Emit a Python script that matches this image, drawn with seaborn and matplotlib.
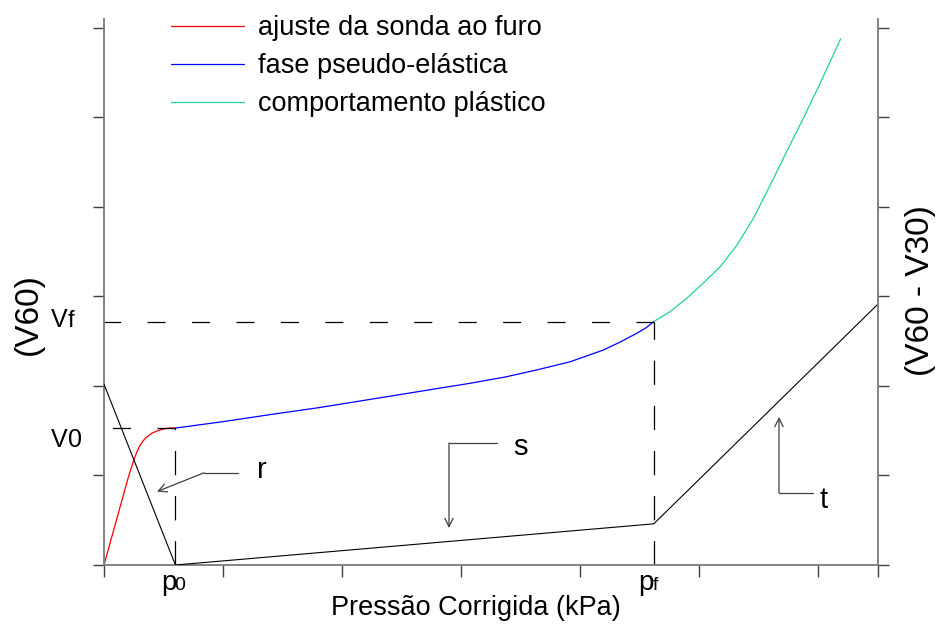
import matplotlib
matplotlib.use("Agg")
import matplotlib.pyplot as plt
import seaborn as sns

# Pressuremeter curve: corrected pressure (kPa) vs. volume V60, creep V60 - V30
p0 = 60.0
pf = 462.0
V0 = 1.53
Vf = 2.72

# "ajuste da sonda ao furo" (probe seating)
p_ajuste = [0, 10, 20, 25, 27.5, 30, 32.5, 35, 40, 45, 50, 55, 60]
v_ajuste = [0.0, 0.48, 0.96, 1.17, 1.26, 1.33, 1.38, 1.42, 1.47, 1.50, 1.52, 1.53, 1.53]

# "fase pseudo-elástica"
p_elastica = [60, 99.2, 139.5, 181.5, 223.5, 265.5, 307.6, 337.0, 363.9, 391.6,
              419.3, 433.6, 447.9, 455.5, 462]
v_elastica = [1.53, 1.60, 1.68, 1.76, 1.85, 1.94, 2.03, 2.10, 2.18, 2.27,
              2.40, 2.49, 2.59, 2.65, 2.72]

# "comportamento plástico"
p_plastico = [462, 475.6, 489.7, 503.6, 517.6, 531.7, 545.6, 559.7, 573.7, 587.6,
              601.7, 619.1]
v_plastico = [2.72, 2.83, 2.98, 3.15, 3.33, 3.57, 3.87, 4.24, 4.62, 4.99,
              5.38, 5.88]

# creep curve (V60 - V30)
p_fluencia = [0, 60, 462, 650]
v_fluencia = [2.02, 0.0, 0.46, 2.91]

legend_labels = ["ajuste da sonda ao furo", "fase pseudo-elástica", "comportamento plástico"]
colors = ["#ff0000", "#0000ff", "#1fd2a2"]

sns.set_theme(style="white")
plt.rcParams["font.family"] = ["Liberation Sans", "DejaVu Sans"]
plt.rcParams["lines.scale_dashes"] = False
plt.rcParams["text.color"] = "black"
plt.rcParams["axes.labelcolor"] = "black"

fig = plt.figure(figsize=(9.42, 6.3), dpi=100)
ax = fig.add_axes([104 / 942, 65 / 630, 774 / 942, 546 / 630])
ax2 = ax.twinx()

XMAX, YMAX = 650.4, 6.1
for a in (ax, ax2):
    a.set_xlim(0, XMAX)
    a.set_ylim(0, YMAX)
    a.set_yticks(range(0, 7))
    a.set_yticklabels([])
    a.set_ylabel("")
    for s in a.spines.values():
        s.set_visible(False)
    a.tick_params(axis="y", length=8, width=1, color="#404040", direction="out")
ax.set_xticks([0, 100, 200, 300, 400, 500, 600, XMAX])
ax.set_xticklabels([])
ax.tick_params(axis="x", length=8.5, width=1, color="#404040", direction="out", bottom=True)
ax.tick_params(axis="y", left=True, right=False)
ax2.tick_params(axis="y", left=False, right=True)
ax2.tick_params(axis="x", bottom=False, top=False)
ax.spines["left"].set_visible(True)
ax.spines["bottom"].set_visible(True)
ax2.spines["right"].set_visible(True)
for s in (ax.spines["left"], ax.spines["bottom"], ax2.spines["right"]):
    s.set_color("#7a7a7a")
    s.set_linewidth(1.3)

lw = 0.9
sns.lineplot(x=p_ajuste, y=v_ajuste, ax=ax, color=colors[0], lw=lw, sort=False,
             estimator=None, label=legend_labels[0])
sns.lineplot(x=p_elastica, y=v_elastica, ax=ax, color=colors[1], lw=lw, sort=False,
             estimator=None, label=legend_labels[1])
sns.lineplot(x=p_plastico, y=v_plastico, ax=ax, color=colors[2], lw=lw, sort=False,
             estimator=None, label=legend_labels[2])
sns.lineplot(x=p_fluencia, y=v_fluencia, ax=ax2, color="black", lw=0.8, sort=False,
             estimator=None, legend=False)

# guide lines at p0 / V0 and pf / Vf
dash_h = (0, (13, 19))
dash_v = (0, (17.5, 15))
ax.plot([p0, 0], [V0, V0], color="black", lw=0.9, ls=dash_h)
ax.plot([p0, p0], [0, V0], color="black", lw=0.9, ls=dash_v)
ax.plot([pf, 0], [Vf, Vf], color="black", lw=0.9, ls=dash_h)
ax.plot([pf, pf], [0, Vf], color="black", lw=0.9, ls=dash_v)

ax.set_xlabel("Pressão Corrigida (kPa)", fontsize=19.5, labelpad=12)
ax.xaxis.set_label_coords(0.481, -0.055)
ax.xaxis.label.set_va("top")
ax.set_ylabel("(V60)", fontsize=24, va="center")
ax.yaxis.set_label_coords(-0.098, 0.46)
ax2.set_ylabel("(V60 - V30)", fontsize=24, va="center", rotation=90)
ax2.yaxis.set_label_coords(1.055, 0.502)

# axis markers: V0, Vf on the volume axis, p0, pf on the pressure axis
def marker_label(xy, main, sub, dx_main, dx_sub, dy, size_main, size_sub):
    ax.annotate(main, xy=xy, xytext=(dx_main, dy), textcoords="offset points",
                ha="right", va="baseline", fontsize=size_main, annotation_clip=False)
    ax.annotate(sub, xy=xy, xytext=(dx_sub, dy), textcoords="offset points",
                ha="left", va="baseline", fontsize=size_sub, annotation_clip=False)

marker_label((0, V0), "V", "0", -26.0, -26.0, -13.7, 18, 18)
marker_label((0, Vf), "V", "f", -26.0, -26.0, -3.6, 18, 17)
marker_label((p0, 0), "p", "0", 0.5, -0.5, -18, 20, 14)
marker_label((pf, 0), "p", "f", -0.5, -0.5, -18, 20, 14)

# callouts r, s, t
lead_color = "#404040"
arrow = dict(arrowstyle="->,head_length=0.4,head_width=0.2", color=lead_color, lw=0.9,
             shrinkA=0, shrinkB=0, mutation_scale=15)

ax.plot([112.6, 84.0], [1.03, 1.03], color=lead_color, lw=0.9)
ax.annotate("", xy=(44.5, 0.82), xytext=(84.0, 1.03), arrowprops=arrow)
ax.text(132.4, 0.97, "r", fontsize=21, ha="center", va="baseline")

ax.plot([330.3, 289.9], [1.363, 1.363], color=lead_color, lw=0.9)
ax.annotate("", xy=(289.9, 0.413), xytext=(289.9, 1.363), arrowprops=arrow)
ax.text(349.6, 1.23, "s", fontsize=21, ha="center", va="baseline")

ax.plot([595.8, 567.2], [0.804, 0.804], color=lead_color, lw=0.9)
ax.annotate("", xy=(567.2, 1.654), xytext=(567.2, 0.804), arrowprops=arrow)
ax.text(604.6, 0.637, "t", fontsize=21, ha="center", va="baseline")

ax.legend(loc="upper left", bbox_to_anchor=(171 / 942, 1 - 15 / 630),
          bbox_transform=fig.transFigure, frameon=False, fontsize=19.5,
          handlelength=2.68, handletextpad=0.55, labelspacing=0.45,
          borderpad=0, borderaxespad=0)

fig.savefig("out.png", dpi=100)
